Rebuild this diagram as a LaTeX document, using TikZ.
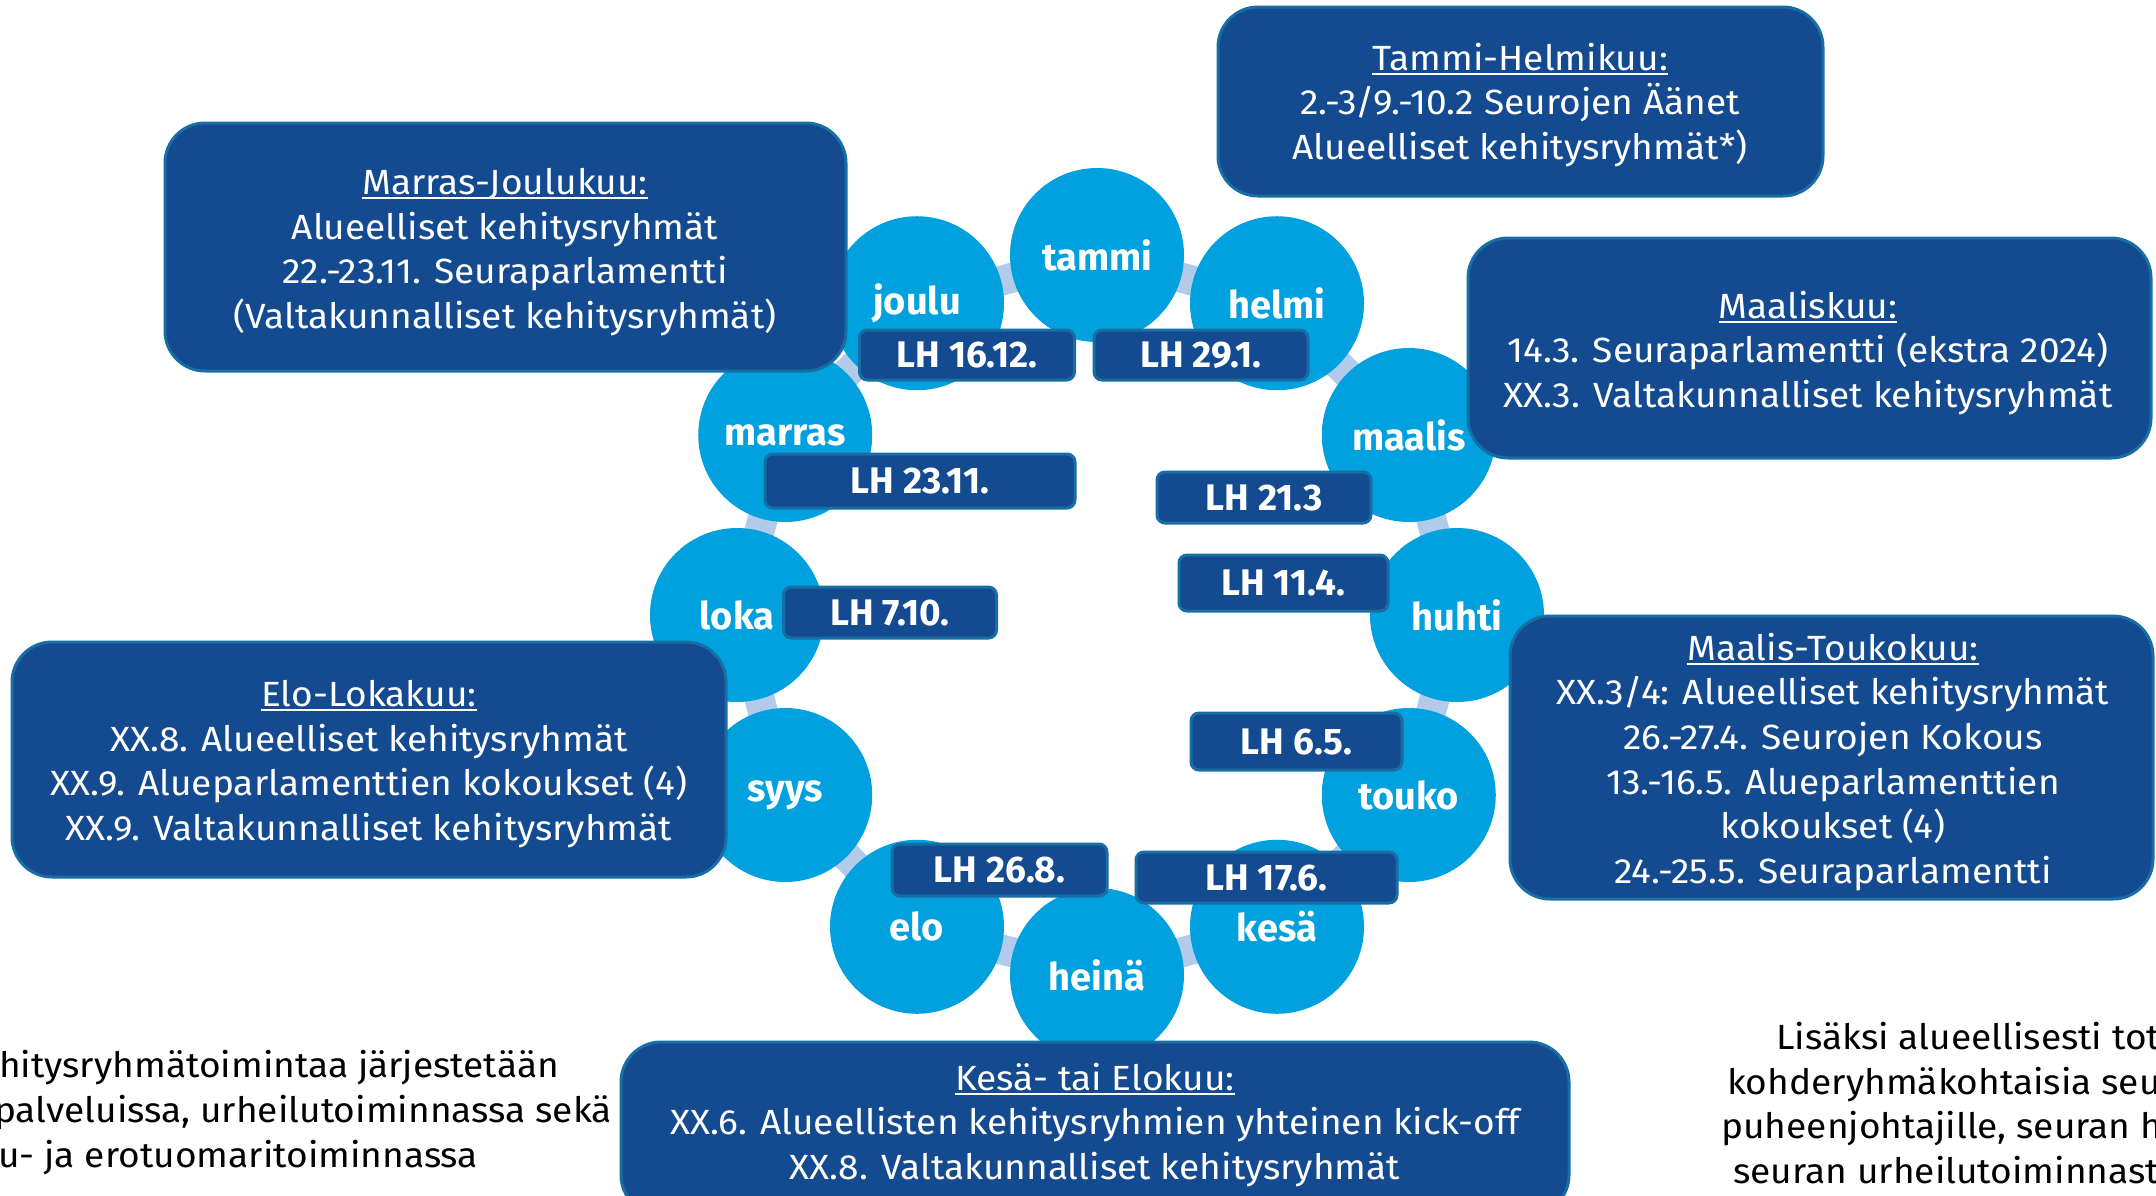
\documentclass[tikz,border=0pt]{standalone}
\usepackage{fontspec}
\setmainfont{Fira Sans}[FakeStretch=1.06]
\newfontfamily\lhfont{Fira Sans}[FakeStretch=1.0]
\newfontfamily\monfont{Fira Sans}[FakeStretch=1.0]
\definecolor{navy}{RGB}{20,74,143}
\definecolor{cyanm}{RGB}{0,161,222}
\definecolor{boxline}{RGB}{22,110,165}
\definecolor{arrowc}{RGB}{178,203,234}
\pgfdeclarelayer{bg}
\pgfdeclarelayer{back}
\pgfsetlayers{bg,back,main}
\newcommand\ulh[1]{\setbox0\hbox{#1}\rlap{\rule[-5pt]{\wd0}{2.2pt}}\box0}
\begin{document}
\begin{tikzpicture}[x=1pt,y=-1pt,
 bigbox/.style={draw=boxline,line width=3pt,fill=navy,rounded corners=40pt,inner sep=0pt},
 boxtext/.style={text=white,align=center,font=\fontsize{35}{44.7}\selectfont,inner sep=0pt},
 month/.style={circle,fill=cyanm,minimum size=174pt,inner sep=0pt,text=white,font=\monfont\bfseries\fontsize{38}{40}\selectfont},
 lhbox/.style={draw=boxline,line width=3pt,fill=navy,rounded corners=8pt,inner sep=0pt,text=white,font=\lhfont\bfseries\fontsize{37}{40}\selectfont},
 cyc/.style={draw=arrowc,line width=30pt},
 plain/.style={text=black,font=\fontsize{35}{44}\selectfont,inner sep=0pt,anchor=base west}
]
\useasboundingbox (0,0) rectangle (2156,1195);
\begin{pgfonlayer}{bg}
\fill[white] (0,0) rectangle (2156,1195);
\end{pgfonlayer}

% month circles
\foreach \k/\nm in {0/tammi,1/helmi,2/maalis,3/huhti,4/touko,5/kesä,6/heinä,7/elo,8/syys,9/loka,10/marras,11/joulu}{
  \node[month] (m\k) at ([shift={(1097,615)}]{-90+30*\k}:360) {\nm};
}
% cycle connectors
\begin{pgfonlayer}{back}
\foreach \k in {0,...,11}{
  \pgfmathtruncatemacro\n{mod(\k+1,12)}
  \draw[cyc] (m\k.center) -- (m\n.center);
}
\end{pgfonlayer}

% LH boxes
\node[lhbox,minimum width=215pt,minimum height=50pt] (lh1) at (967,355) {LH 16.12.};
\node[lhbox,minimum width=214pt,minimum height=50pt] (lh2) at (1201,355) {LH 29.1.};
\node[lhbox,minimum width=310pt,minimum height=54pt] (lh3) at (920,481) {LH 23.11.};
\node[lhbox,minimum width=214pt,minimum height=51pt] (lh4) at (1264,497.5) {LH 21.3};
\node[lhbox,minimum width=209pt,minimum height=56pt] (lh5) at (1283.5,583) {LH 11.4.};
\node[lhbox,minimum width=213pt,minimum height=51pt] (lh6) at (890,612.5) {LH 7.10.};
\node[lhbox,minimum width=211pt,minimum height=57pt] (lh7) at (1296.5,741.5) {LH 6.5.};
\node[lhbox,minimum width=215pt,minimum height=52pt] (lh8) at (999.5,870) {LH 26.8.};
\node[lhbox,minimum width=261pt,minimum height=51pt] (lh9) at (1266.5,877.5) {LH 17.6.};

% big boxes
\node[bigbox,minimum width=605pt,minimum height=189pt] (tbox) at (1520.5,101.5) {};
\node[boxtext] (ttext) at (1520,105) {\ulh{Tammi-Helmikuu:}\\2.-3/9.-10.2 Seurojen Äänet\\Alueelliset kehitysryhmät*)};

\node[bigbox,minimum width=681pt,minimum height=248pt] (mjbox) at (505.5,247) {};
\node[boxtext] (mjtext) at (505,252) {\ulh{Marras-Joulukuu:}\\Alueelliset kehitysryhmät\\22.-23.11. Seuraparlamentti\\(Valtakunnalliset kehitysryhmät)};

\node[bigbox,minimum width=683pt,minimum height=220pt] (mbox) at (1809.5,348) {};
\node[boxtext] (mtext) at (1808,353) {\ulh{Maaliskuu:}\\14.3. Seuraparlamentti (ekstra 2024)\\XX.3. Valtakunnalliset kehitysryhmät};

\node[bigbox,minimum width=643pt,minimum height=283pt] (mtbox) at (1831.5,757.5) {};
\node[boxtext] (mttext) at (1833,762) {\ulh{Maalis-Toukokuu:}\\XX.3/4: Alueelliset kehitysryhmät\\26.-27.4. Seurojen Kokous\\13.-16.5. Alueparlamenttien\\kokoukset (4)\\24.-25.5. Seuraparlamentti};

\node[bigbox,minimum width=714pt,minimum height=235pt] (elbox) at (369,759.5) {};
\node[boxtext] (eltext) at (369,764) {\ulh{Elo-Lokakuu:}\\XX.8. Alueelliset kehitysryhmät\\XX.9. Alueparlamenttien kokoukset (4)\\XX.9. Valtakunnalliset kehitysryhmät};

\node[bigbox,minimum width=948pt,minimum height=173pt] (kbox) at (1095,1128.5) {};
\node[boxtext] (ktext) at (1095,1125) {\ulh{Kesä- tai Elokuu:}\\XX.6. Alueellisten kehitysryhmien yhteinen kick-off\\XX.8. Valtakunnalliset kehitysryhmät};

% side texts
\node[plain] (l1) at (-1,1077) {hitysryhmätoimintaa järjestetään};
\node[plain] (l2) at (-6,1122) {palveluissa, urheilutoiminnassa sekä};
\node[plain] (l3) at (-2,1167) {u- ja erotuomaritoiminnassa};
\node[plain] (r1) at (1776,1049) {Lisäksi alueellisesti tot};
\node[plain] (r2) at (1727,1094) {kohderyhmäkohtaisia seur};
\node[plain] (r3) at (1721,1138) {puheenjohtajille, seuran h};
\node[plain] (r4) at (1733,1183) {seuran urheilutoiminnasta};
\end{tikzpicture}
\end{document}
